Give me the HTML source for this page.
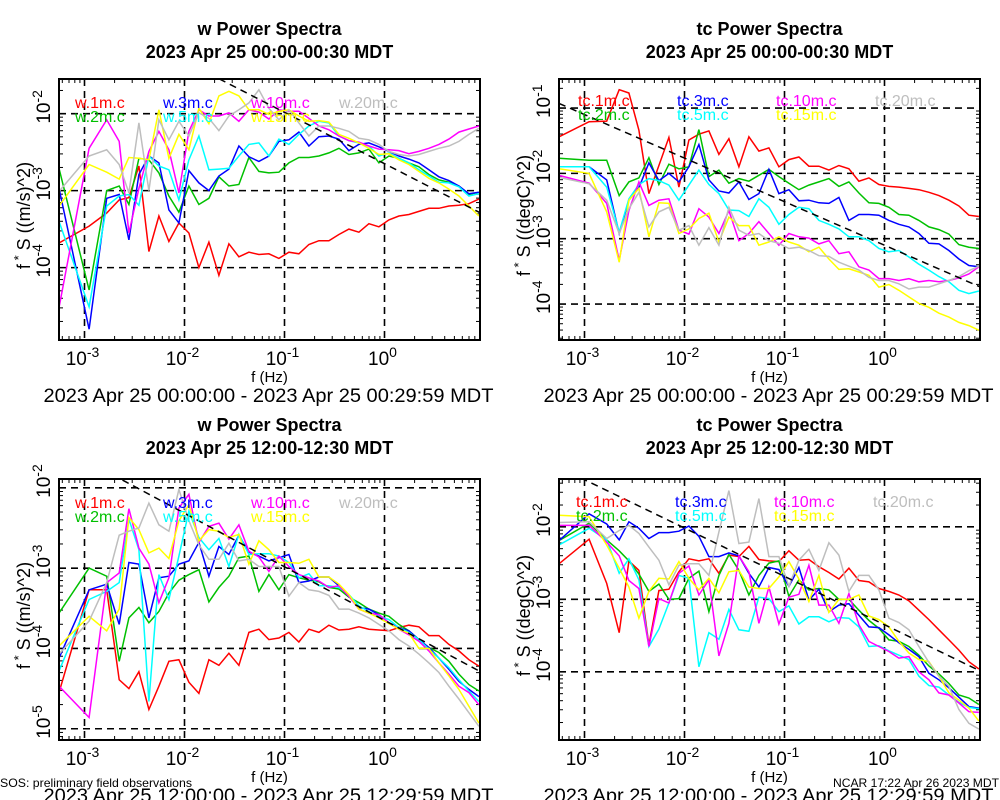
<!DOCTYPE html>
<html><head><meta charset="utf-8"><title>Power Spectra</title>
<style>
html,body{margin:0;padding:0;background:#fff;}
svg{display:block;font-family:"Liberation Sans",sans-serif;}
</style></head>
<body>
<svg id="chart" width="1000" height="800" viewBox="0 0 1000 800" xmlns="http://www.w3.org/2000/svg">
<rect x="0" y="0" width="1000" height="800" fill="#fff"/>
<text x="0" y="787" font-size="12" textLength="192" lengthAdjust="spacingAndGlyphs">SOS: preliminary field observations</text>
<text x="833" y="787" font-size="12" textLength="166" lengthAdjust="spacingAndGlyphs">NCAR 17:22 Apr 26 2023 MDT</text>
</svg>
<script>
// ---- shared frequency axis (log10 Hz) ----
const logF = [-3.255,-2.954,-2.778,-2.653,-2.556,-2.456,-2.356,-2.256,-2.156,-2.056,-1.956,-1.856,-1.756,-1.656,-1.556,-1.456,-1.356,-1.256,-1.156,-1.056,-0.956,-0.856,-0.756,-0.656,-0.556,-0.456,-0.356,-0.256,-0.156,-0.056,0.044,0.144,0.244,0.344,0.444,0.544,0.644,0.744,0.844,0.944];
const xTickExps = [-3,-2,-1,0];
const seriesColors = ["#ff0000","#00c000","#0000ff","#00ffff","#ff00ff","#ffff00","#bebebe"];

// ---- panel 1: w 00:00-00:30 (log10 values) ----
const p1Names = ["w.1m.c","w.2m.c","w.3m.c","w.5m.c","w.10m.c","w.15m.c","w.20m.c"];
const p1_1m = [-3.68,-3.46,-3.29,-3.12,-3.09,-2.68,-3.79,-3.33,-3.66,-3.42,-3.55,-4.0,-3.67,-4.1,-3.69,-3.86,-3.8,-3.83,-3.82,-3.88,-3.8,-3.82,-3.7,-3.65,-3.65,-3.57,-3.5,-3.54,-3.43,-3.47,-3.38,-3.33,-3.31,-3.27,-3.23,-3.23,-3.2,-3.19,-3.17,-3.11];
const p1_2m = [-2.71,-4.29,-3.0,-2.94,-3.18,-2.58,-2.6,-2.77,-3.07,-3.28,-2.94,-3.18,-3.1,-2.82,-2.94,-2.92,-2.57,-2.75,-2.77,-2.76,-2.64,-2.57,-2.57,-2.55,-2.51,-2.45,-2.53,-2.51,-2.46,-2.64,-2.55,-2.58,-2.64,-2.69,-2.79,-2.86,-2.89,-2.94,-3.05,-3.02];
const p1_3m = [-2.97,-4.8,-3.1,-3.05,-3.64,-2.79,-2.55,-2.64,-3.25,-3.42,-2.74,-2.9,-3.0,-2.81,-2.72,-2.42,-2.56,-2.62,-2.55,-2.36,-2.34,-2.24,-2.42,-2.3,-2.29,-2.33,-2.48,-2.4,-2.38,-2.43,-2.49,-2.55,-2.59,-2.64,-2.73,-2.82,-2.87,-2.94,-3.04,-3.02];
const p1_5m = [-3.4,-4.51,-3.2,-3.07,-3.05,-3.19,-2.55,-2.68,-2.73,-3.12,-2.6,-2.29,-2.73,-2.72,-2.71,-2.55,-2.4,-2.38,-2.55,-2.33,-2.4,-2.27,-2.16,-2.1,-2.12,-2.29,-2.35,-2.38,-2.42,-2.55,-2.51,-2.58,-2.64,-2.73,-2.81,-2.89,-2.9,-2.95,-3.07,-3.04];
const p1_10m = [-4.52,-2.45,-2.08,-2.36,-3.55,-2.97,-2.49,-2.23,-2.47,-3.03,-2.23,-1.95,-2.03,-2.03,-1.99,-2.1,-1.95,-1.98,-2.07,-1.95,-1.97,-1.97,-2.06,-2.16,-2.21,-2.29,-2.35,-2.37,-2.42,-2.46,-2.47,-2.48,-2.52,-2.49,-2.45,-2.4,-2.33,-2.24,-2.2,-2.16];
const p1_15m = [-3.2,-2.66,-2.76,-2.85,-2.57,-2.58,-2.6,-1.95,-2.58,-2.27,-2.47,-1.93,-2.13,-1.77,-1.71,-1.77,-1.95,-1.95,-2.01,-1.97,-1.95,-2.03,-2.1,-2.09,-2.11,-2.27,-2.32,-2.38,-2.45,-2.53,-2.52,-2.6,-2.66,-2.75,-2.84,-2.9,-2.98,-3.07,-3.2,-3.33];
const p1_20m = [-3.01,-2.55,-2.47,-2.66,-3.03,-2.12,-3.0,-2.08,-2.34,-2.1,-2.29,-1.99,-2.06,-2.22,-2.03,-1.95,-1.86,-1.69,-1.93,-2.08,-1.95,-2.12,-2.29,-2.16,-2.16,-2.19,-2.23,-2.32,-2.34,-2.4,-2.49,-2.53,-2.55,-2.53,-2.49,-2.45,-2.42,-2.36,-2.27,-2.19];
const p1RefIntercept = -2.65;

// ---- panel 2: tc 00:00-00:30 ----
const p2Names = ["tc.1m.c","tc.2m.c","tc.3m.c","tc.5m.c","tc.10m.c","tc.15m.c","tc.20m.c"];
const p2_1m = [-1.44,-1.21,-1.2,-0.72,-0.77,-1.34,-2.31,-1.88,-1.45,-2.21,-1.49,-1.4,-1.35,-1.71,-1.47,-1.9,-1.44,-1.66,-1.61,-1.9,-1.79,-1.75,-1.89,-1.89,-1.95,-1.88,-1.93,-2.12,-2.07,-2.17,-2.2,-2.21,-2.23,-2.25,-2.29,-2.34,-2.41,-2.5,-2.64,-2.66];
const p2_2m = [-1.77,-1.8,-1.8,-2.34,-2.13,-2.07,-1.76,-2.17,-1.86,-1.93,-1.9,-1.33,-2.05,-1.95,-2.15,-2.08,-2.12,-2.03,-1.94,-2.05,-2.15,-2.25,-2.18,-2.13,-2.08,-2.2,-2.13,-2.3,-2.45,-2.46,-2.52,-2.63,-2.64,-2.72,-2.82,-2.86,-2.93,-3.09,-3.13,-3.15];
const p2_3m = [-1.9,-1.9,-2.1,-2.92,-2.41,-2.22,-1.84,-2.11,-2.0,-2.13,-1.9,-1.56,-2.1,-2.27,-2.3,-2.13,-2.4,-2.31,-1.94,-2.31,-2.25,-2.42,-2.41,-2.45,-2.46,-2.37,-2.72,-2.63,-2.63,-2.64,-2.72,-2.78,-2.82,-2.92,-3.07,-3.08,-3.18,-3.31,-3.41,-3.43];
const p2_5m = [-1.9,-1.9,-2.21,-2.9,-2.39,-2.17,-2.08,-2.11,-2.18,-2.41,-2.18,-1.95,-2.17,-2.31,-2.56,-2.57,-2.66,-2.39,-2.52,-2.78,-2.63,-2.52,-2.54,-2.72,-2.78,-2.85,-2.97,-2.97,-3.03,-3.15,-3.2,-3.18,-3.28,-3.39,-3.48,-3.58,-3.66,-3.79,-3.84,-3.8];
const p2_10m = [-2.03,-2.15,-2.46,-3.33,-2.57,-2.13,-2.49,-2.41,-2.39,-2.87,-2.93,-2.54,-2.67,-2.92,-2.57,-3.03,-2.92,-2.74,-2.92,-3.1,-2.92,-2.97,-2.99,-3.08,-3.03,-3.23,-3.2,-3.43,-3.48,-3.61,-3.61,-3.64,-3.61,-3.66,-3.64,-3.66,-3.64,-3.6,-3.54,-3.43];
const p2_15m = [-1.93,-2.0,-2.59,-3.36,-2.41,-2.23,-2.97,-2.45,-2.46,-2.92,-2.85,-2.69,-2.61,-3.05,-2.67,-2.8,-2.8,-3.1,-3.05,-2.97,-3.05,-3.1,-3.2,-3.13,-3.31,-3.47,-3.46,-3.51,-3.56,-3.74,-3.7,-3.79,-3.89,-3.99,-4.05,-4.14,-4.2,-4.28,-4.33,-4.4];
const p2_20m = [-2.06,-2.16,-2.41,-2.92,-2.54,-2.29,-2.82,-2.59,-2.52,-2.87,-2.8,-3.1,-2.83,-3.1,-2.52,-2.87,-2.95,-2.92,-3.03,-3.07,-3.15,-3.13,-3.18,-3.26,-3.27,-3.36,-3.42,-3.48,-3.59,-3.64,-3.64,-3.69,-3.77,-3.74,-3.74,-3.69,-3.64,-3.58,-3.49,-3.42];
const p2RefIntercept = -3.1;

// ---- panel 3: w 12:00-12:30 ----
const p3Names = ["w.1m.c","w.2m.c","w.3m.c","w.5m.c","w.10m.c","w.15m.c","w.20m.c"];
const p3_1m = [-4.55,-3.27,-3.27,-4.39,-4.5,-4.29,-4.76,-4.47,-4.16,-4.14,-4.42,-4.56,-4.14,-4.21,-4.06,-4.21,-3.8,-3.76,-3.89,-3.87,-3.8,-3.92,-3.76,-3.8,-3.71,-3.77,-3.76,-3.73,-3.76,-3.77,-3.78,-3.74,-3.71,-3.73,-3.84,-3.84,-3.95,-4.03,-4.14,-4.22];
const p3_2m = [-3.56,-3.0,-3.1,-4.16,-3.62,-3.49,-3.68,-3.54,-3.31,-3.15,-3.08,-3.02,-3.42,-3.24,-3.1,-2.87,-2.85,-3.29,-3.08,-3.27,-3.08,-3.12,-3.15,-3.17,-3.24,-3.26,-3.36,-3.43,-3.51,-3.56,-3.6,-3.7,-3.78,-3.89,-3.99,-4.05,-4.16,-4.32,-4.45,-4.53];
const p3_3m = [-4.12,-3.27,-3.2,-3.7,-2.93,-2.95,-3.62,-3.12,-3.1,-2.95,-2.91,-2.68,-3.1,-2.73,-2.83,-2.59,-2.8,-2.85,-2.91,-2.87,-2.83,-3.18,-3.16,-3.11,-3.11,-3.22,-3.35,-3.49,-3.51,-3.58,-3.68,-3.74,-3.78,-3.89,-3.99,-4.12,-4.26,-4.41,-4.51,-4.6];
const p3_5m = [-4.28,-3.39,-3.29,-3.18,-2.39,-2.77,-4.66,-3.08,-3.39,-2.85,-2.29,-2.62,-2.77,-2.63,-2.98,-2.58,-2.83,-2.82,-2.82,-2.85,-2.93,-3.12,-3.07,-3.22,-3.22,-3.24,-3.33,-3.47,-3.54,-3.6,-3.64,-3.74,-3.8,-3.89,-4.01,-4.12,-4.24,-4.39,-4.53,-4.66];
const p3_10m = [-4.47,-4.86,-3.18,-3.06,-2.26,-2.75,-2.95,-3.43,-3.12,-2.25,-2.08,-2.68,-2.48,-2.44,-2.64,-2.46,-2.79,-2.86,-3.04,-2.85,-2.98,-3.08,-3.12,-3.16,-3.24,-3.22,-3.35,-3.51,-3.56,-3.58,-3.68,-3.76,-3.83,-3.91,-4.03,-4.18,-4.32,-4.47,-4.55,-4.7];
const p3_15m = [-3.97,-3.6,-3.78,-3.51,-2.37,-2.52,-2.81,-2.75,-2.88,-2.41,-2.21,-2.66,-2.52,-2.54,-2.62,-2.58,-2.95,-2.66,-2.77,-2.93,-2.93,-2.94,-2.89,-3.11,-3.11,-3.2,-3.33,-3.51,-3.56,-3.62,-3.69,-3.76,-3.81,-4.0,-4.0,-4.18,-4.34,-4.51,-4.72,-4.93];
const p3_20m = [-4.07,-3.66,-3.18,-2.59,-2.54,-2.5,-2.19,-2.46,-2.54,-2.02,-2.41,-2.71,-2.89,-2.89,-2.69,-2.91,-2.89,-2.98,-2.98,-2.98,-3.35,-3.18,-3.27,-3.29,-3.34,-3.51,-3.51,-3.56,-3.62,-3.7,-3.78,-3.89,-3.97,-4.07,-4.18,-4.3,-4.47,-4.63,-4.8,-4.97];
const p3RefIntercept = -3.65;

// ---- panel 4: tc 12:00-12:30 ----
const p4Names = ["tc.1m.c","tc.2m.c","tc.3m.c","tc.5m.c","tc.10m.c","tc.15m.c","tc.20m.c"];
const p4_1m = [-2.51,-2.17,-2.78,-3.46,-2.47,-2.6,-3.63,-2.88,-2.86,-2.62,-2.44,-2.47,-2.44,-2.64,-2.39,-2.41,-2.27,-2.45,-2.47,-2.48,-2.33,-2.46,-2.45,-2.55,-2.63,-2.72,-2.57,-2.74,-2.76,-2.85,-2.89,-2.94,-3.02,-3.15,-3.28,-3.42,-3.56,-3.7,-3.86,-3.96];
const p4_2m = [-2.19,-1.95,-2.18,-2.33,-2.47,-2.65,-2.89,-2.79,-3.0,-2.99,-2.71,-2.61,-3.17,-2.67,-2.38,-2.6,-2.94,-2.67,-2.5,-2.47,-2.96,-2.73,-2.87,-2.85,-2.87,-3.0,-3.0,-3.15,-3.29,-3.4,-3.56,-3.58,-3.65,-3.77,-3.92,-4.03,-4.16,-4.32,-4.36,-4.45];
const p4_3m = [-2.19,-1.82,-1.96,-2.18,-1.93,-2.02,-2.16,-2.08,-2.08,-2.06,-1.99,-2.13,-2.41,-2.41,-2.36,-2.4,-2.64,-2.83,-2.56,-2.59,-2.82,-2.56,-3.01,-2.86,-3.17,-3.08,-3.06,-3.22,-3.38,-3.39,-3.49,-3.6,-3.69,-3.79,-4.02,-4.11,-4.22,-4.35,-4.48,-4.5];
const p4_5m = [-2.25,-2.02,-2.18,-2.64,-2.44,-2.73,-3.65,-3.41,-3.05,-2.67,-2.71,-3.93,-3.46,-3.55,-3.14,-3.42,-3.44,-2.97,-2.99,-3.17,-3.09,-3.34,-3.24,-3.24,-3.31,-3.25,-3.26,-3.38,-3.65,-3.64,-3.71,-3.77,-3.83,-4.06,-4.19,-4.21,-4.32,-4.42,-4.49,-4.51];
const p4_10m = [-1.98,-1.98,-2.21,-2.4,-2.74,-2.85,-3.65,-2.99,-3.05,-2.64,-2.54,-2.94,-2.73,-3.78,-3.33,-2.4,-2.62,-3.33,-2.83,-3.34,-2.97,-2.93,-2.53,-3.08,-3.08,-3.33,-2.92,-3.35,-3.58,-3.65,-3.72,-3.81,-3.79,-4.0,-4.11,-4.29,-4.32,-4.43,-4.55,-4.56];
const p4_15m = [-1.84,-1.86,-2.25,-2.57,-2.83,-3.26,-2.89,-2.71,-2.72,-2.48,-2.71,-2.87,-2.71,-2.91,-2.62,-2.6,-2.83,-2.85,-2.85,-2.69,-2.48,-2.72,-3.03,-2.67,-3.18,-3.0,-3.0,-2.94,-3.23,-3.28,-3.38,-3.58,-3.74,-3.83,-3.86,-4.06,-4.29,-4.39,-4.5,-4.68];
const p4_20m = [-1.94,-1.93,-2.16,-2.05,-1.98,-2.09,-2.28,-2.46,-2.8,-2.53,-2.51,-2.51,-2.67,-2.07,-1.5,-2.23,-2.21,-1.61,-2.41,-2.41,-2.82,-2.46,-2.31,-2.6,-2.22,-2.39,-2.89,-2.67,-2.67,-2.87,-3.26,-3.32,-3.42,-3.65,-3.87,-4.06,-4.2,-4.52,-4.71,-4.79];
const p4RefIntercept = -3.35;

const NS = "http://www.w3.org/2000/svg";
const svg = document.getElementById("chart");
function mk(tag, attrs, parent){
  const e = document.createElementNS(NS, tag);
  for (const k in attrs) e.setAttribute(k, attrs[k]);
  (parent||svg).appendChild(e);
  return e;
}

const panels = [
  {id:"w-early", x0:59, x1:480, y0:79, y1:340, lmin:-4.94, lmax:-1.55, yTicks:[-2,-3,-4], title:"w Power Spectra", sub:"2023 Apr 25 00:00-00:30 MDT",
   range:"2023 Apr 25 00:00:00 - 2023 Apr 25 00:29:59 MDT", ylab:"((m/s)^2)", names:p1Names, series:[p1_1m,p1_2m,p1_3m,p1_5m,p1_10m,p1_15m,p1_20m], ref:p1RefIntercept,
   legX:[75,163,251,339], legY:[108,122], titleY:[35,58]},
  {id:"tc-early", x0:559, x1:980, y0:79, y1:340, lmin:-4.55, lmax:-0.556, yTicks:[-1,-2,-3,-4], title:"tc Power Spectra", sub:"2023 Apr 25 00:00-00:30 MDT",
   range:"2023 Apr 25 00:00:00 - 2023 Apr 25 00:29:59 MDT", ylab:"((degC)^2)", names:p2Names, series:[p2_1m,p2_2m,p2_3m,p2_5m,p2_10m,p2_15m,p2_20m], ref:p2RefIntercept,
   legX:[578,677,776,875], legY:[106,120], titleY:[35,58]},
  {id:"w-noon", x0:59, x1:480, y0:479, y1:740, lmin:-5.14, lmax:-1.89, yTicks:[-2,-3,-4,-5], title:"w Power Spectra", sub:"2023 Apr 25 12:00-12:30 MDT",
   range:"2023 Apr 25 12:00:00 - 2023 Apr 25 12:29:59 MDT", ylab:"((m/s)^2)", names:p3Names, series:[p3_1m,p3_2m,p3_3m,p3_5m,p3_10m,p3_15m,p3_20m], ref:p3RefIntercept,
   legX:[75,163,251,339], legY:[508,522], titleY:[431,454]},
  {id:"tc-noon", x0:559, x1:980, y0:479, y1:740, lmin:-4.94, lmax:-1.34, yTicks:[-2,-3,-4], title:"tc Power Spectra", sub:"2023 Apr 25 12:00-12:30 MDT",
   range:"2023 Apr 25 12:00:00 - 2023 Apr 25 12:29:59 MDT", ylab:"((degC)^2)", names:p4Names, series:[p4_1m,p4_2m,p4_3m,p4_5m,p4_10m,p4_15m,p4_20m], ref:p4RefIntercept,
   legX:[576,675,774,873], legY:[507,521], titleY:[431,454]}
];
const FMIN = -3.255, FMAX = 0.955;

panels.forEach(function(p){
  const g = mk("g", {});
  
  
  const xs = function(lf){ return p.x0 + (lf - FMIN) / (FMAX - FMIN) * (p.x1 - p.x0); };
  const ys = function(lv){ return p.y0 + (p.lmax - lv) / (p.lmax - p.lmin) * (p.y1 - p.y0); };
  const cx = (p.x0 + p.x1) / 2;
  const clipId = "clip-" + p.id;
  const cp = mk("clipPath", {id:clipId}, g);
  mk("rect", {x:p.x0, y:p.y0, width:p.x1-p.x0, height:p.y1-p.y0}, cp);

  // titles
  const t1 = mk("text", {x:cx, y:p.titleY[0], "text-anchor":"middle", "font-size":"18", "font-weight":"bold"}, g);
  t1.textContent = p.title;
  
  
  const t2 = mk("text", {x:cx, y:p.titleY[1], "text-anchor":"middle", "font-size":"18", "font-weight":"bold"}, g);
  t2.textContent = p.sub;
  
  

  // minor ticks x
  for (let d = -4; d <= 0; d++) {
    for (let m = 2; m <= 9; m++) {
      const lf = d + Math.log10(m);
      if (lf < FMIN || lf > FMAX) continue;
      const x = xs(lf);
      mk("line", {x1:x, x2:x, y1:p.y1, y2:p.y1-4, stroke:"#000", "stroke-width":"1"}, g);
      mk("line", {x1:x, x2:x, y1:p.y0, y2:p.y0+4, stroke:"#000", "stroke-width":"1"}, g);
    }
  }
  // minor ticks y
  for (let d = -6; d <= 0; d++) {
    for (let m = 2; m <= 9; m++) {
      const lv = d + Math.log10(m);
      if (lv < p.lmin || lv > p.lmax) continue;
      const y = ys(lv);
      mk("line", {x1:p.x0, x2:p.x0+4, y1:y, y2:y, stroke:"#000", "stroke-width":"1"}, g);
      mk("line", {x1:p.x1, x2:p.x1-4, y1:y, y2:y, stroke:"#000", "stroke-width":"1"}, g);
    }
  }

  // grid + x tick labels
  xTickExps.forEach(function(e){
    const x = xs(e);
    const gl = mk("line", {x1:x, x2:x, y1:p.y0, y2:p.y1, stroke:"#000", "stroke-width":"1.6", "stroke-dasharray":"7,5"}, g);
    
    
    const tl = mk("text", {x:x-2, y:p.y1+25, "text-anchor":"middle", "font-size":"19"}, g);
    
    
    tl.appendChild(document.createTextNode("10"));
    const sup = mk("tspan", {dy:"-8", "font-size":"14"}, tl);
    sup.textContent = String(e);
  });
  p.yTicks.forEach(function(e){
    const y = ys(e);
    const gl = mk("line", {x1:p.x0, x2:p.x1, y1:y, y2:y, stroke:"#000", "stroke-width":"1.6", "stroke-dasharray":"7,5"}, g);
    
    
    const tl = mk("text", {transform:"translate(" + (p.x0-9) + "," + (y+10) + ") rotate(-90)", "font-size":"19"}, g);
    
    
    tl.appendChild(document.createTextNode("10"));
    const sup = mk("tspan", {dy:"-8", "font-size":"14"}, tl);
    sup.textContent = String(e);
  });

  // axis titles
  const xl = mk("text", {x:cx, y:p.y1+42, "text-anchor":"middle", "font-size":"15"}, g);
  xl.textContent = "f (Hz)";
  
  
  const rl = mk("text", {x:cx-1, y:p.y1+62, "text-anchor":"middle", "font-size":"19", textLength:"450", lengthAdjust:"spacingAndGlyphs"}, g);
  rl.textContent = p.range;
  
  
  const yl = mk("text", {transform:"translate(" + (p.x0-29) + "," + ((p.y0+p.y1)/2+6) + ") rotate(-90)", "text-anchor":"middle", "font-size":"18"}, g);
  
  
  yl.appendChild(document.createTextNode("f"));
  const st = mk("tspan", {dy:"-7", "font-size":"13"}, yl); st.textContent = " *";
  const rest = mk("tspan", {dy:"7"}, yl); rest.textContent = " S " + p.ylab;

  // series
  const sg = mk("g", {"clip-path":"url(#" + clipId + ")"}, g);
  p.series.forEach(function(vals, si){
    let d = "";
    vals.forEach(function(v, i){ d += (i ? "L" : "M") + xs(logF[i]).toFixed(1) + "," + ys(v).toFixed(1); });
    const path = mk("path", {d:d, fill:"none", stroke:seriesColors[si], "stroke-width":"1.5", "stroke-linejoin":"miter"}, sg);
    
    
  });
  // -2/3 reference line
  const rd = mk("line", {x1:xs(FMIN), y1:ys(p.ref - 2/3*FMIN), x2:xs(FMAX), y2:ys(p.ref - 2/3*FMAX), stroke:"#000", "stroke-width":"1.5", "stroke-dasharray":"7,5"}, sg);
  
  

  // legend
  p.names.forEach(function(n, si){
    const col = si < 6 ? (si % 2) : 0;
    const colIdx = si < 6 ? Math.floor(si / 2) : 3;
    const lt = mk("text", {x:p.legX[colIdx], y:p.legY[col], "font-size":"16", fill:seriesColors[si]}, g);
    lt.textContent = n;
    
    
  });

  // frame
  const fr = mk("rect", {x:p.x0, y:p.y0, width:p.x1-p.x0, height:p.y1-p.y0, fill:"none", stroke:"#000", "stroke-width":"2"}, g);
  
  
});
</script>
</body></html>
